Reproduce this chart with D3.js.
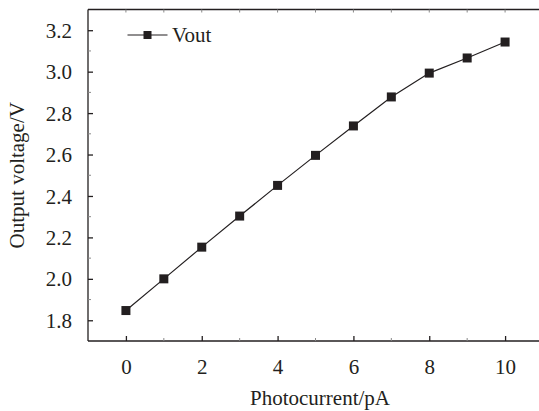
<!DOCTYPE html>
<html><head><meta charset="utf-8">
<script src="https://cdn.jsdelivr.net/npm/d3@7"></script>
<style>body{margin:0;background:#fff}svg{display:block}svg text{font-family:"Liberation Serif","Times New Roman",serif !important;fill:#231f20}</style>
</head><body><svg id="c" width="539" height="411"></svg>
<script>
const photocurrent = [0,1,2,3,4,5,6,7,8,9,10];
const vout = [1.847,2.0,2.153,2.303,2.451,2.596,2.738,2.878,2.993,3.066,3.143];
const xTicks = [0,2,4,6,8,10];
const yTicks = [1.8,2.0,2.2,2.4,2.6,2.8,3.0,3.2];
const seriesName = "Vout";
const xLabel = "Photocurrent/pA";
const yLabel = "Output voltage/V";

const svg = d3.select("#c");
const L=88, T=9.5, B=341, R=543;
const x = d3.scaleLinear().domain([-1,11]).range([L,R]);
const y = d3.scaleLinear().domain([1.7,3.3]).range([B,T]);
const ink="#231f20";
const FS=21;

// frame lines (left, bottom, top)
svg.append("line").attr("x1",L).attr("x2",L).attr("y1",T).attr("y2",B).attr("stroke",ink).attr("stroke-width",1.3);
svg.append("line").attr("x1",L).attr("x2",539).attr("y1",B).attr("y2",B).attr("stroke",ink).attr("stroke-width",1.3);
svg.append("line").attr("x1",L).attr("x2",539).attr("y1",T).attr("y2",T).attr("stroke",ink).attr("stroke-width",1.3);

// bottom axis ticks (inward)
const xMinor = d3.range(-1,12,1).filter(v=>!xTicks.includes(v));
const gx = svg.append("g").attr("transform",`translate(0,${B})`)
  .call(d3.axisBottom(x).tickValues(xTicks).tickSize(-5).tickPadding(14).tickFormat(d3.format("d")));
gx.attr("font-family",null).attr("font-size",FS);
gx.select(".domain").remove();
gx.selectAll(".tick line").attr("stroke",ink).attr("stroke-width",1.3);
gx.selectAll(".tick text").attr("fill",ink).attr("y",null).attr("dy",null).attr("transform","translate(0,33)");
svg.append("g").selectAll("line").data(xMinor.filter(v=>v>-1)).join("line")
  .attr("x1",d=>x(d)).attr("x2",d=>x(d)).attr("y1",B).attr("y2",B-3).attr("stroke","#888").attr("stroke-width",1);
// top ticks
svg.append("g").selectAll("line").data(d3.range(0,12,1)).join("line")
  .attr("x1",d=>x(d)).attr("x2",d=>x(d)).attr("y1",T).attr("y2",T+3).attr("stroke","#888").attr("stroke-width",1);

// left axis
const gy = svg.append("g").attr("transform",`translate(${L},0)`)
  .call(d3.axisLeft(y).tickValues(yTicks).tickSize(-5).tickPadding(16).tickFormat(d3.format(".1f")));
gy.attr("font-family",null).attr("font-size",FS);
gy.select(".domain").remove();
gy.selectAll(".tick line").attr("stroke",ink).attr("stroke-width",1.3);
gy.selectAll(".tick text").attr("fill",ink).attr("dy","0.34em");
const yMinor = [1.9,2.1,2.3,2.5,2.7,2.9,3.1];
svg.append("g").selectAll("line").data(yMinor).join("line")
  .attr("x1",L).attr("x2",L+3).attr("y1",d=>y(d)).attr("y2",d=>y(d)).attr("stroke","#888").attr("stroke-width",1);

// line
const pts = photocurrent.map((d,i)=>[d,vout[i]]);
svg.append("path").datum(pts).attr("fill","none").attr("stroke",ink).attr("stroke-width",1.2)
  .attr("d",d3.line().x(d=>x(d[0])).y(d=>y(d[1])));
const s=9;
svg.append("g").selectAll("rect").data(pts).join("rect")
  .attr("x",d=>x(d[0])-s/2).attr("y",d=>y(d[1])-s/2).attr("width",s).attr("height",s).attr("fill",ink);

// legend
const ly=35;
svg.append("line").attr("x1",127.5).attr("x2",167.5).attr("y1",ly).attr("y2",ly).attr("stroke",ink).attr("stroke-width",1.2);
svg.append("rect").attr("x",147.5-4).attr("y",ly-4).attr("width",8).attr("height",8).attr("fill",ink);
svg.append("text").attr("x",172).attr("y",ly+7).attr("font-size",FS).text(seriesName);

// axis labels
svg.append("text").attr("x",320).attr("y",405).attr("text-anchor","middle").attr("font-size",FS).text(xLabel);
svg.append("text").attr("transform",`translate(24,${(T+B)/2}) rotate(-90)`).attr("text-anchor","middle").attr("font-size",FS).text(yLabel);
</script></body></html>
